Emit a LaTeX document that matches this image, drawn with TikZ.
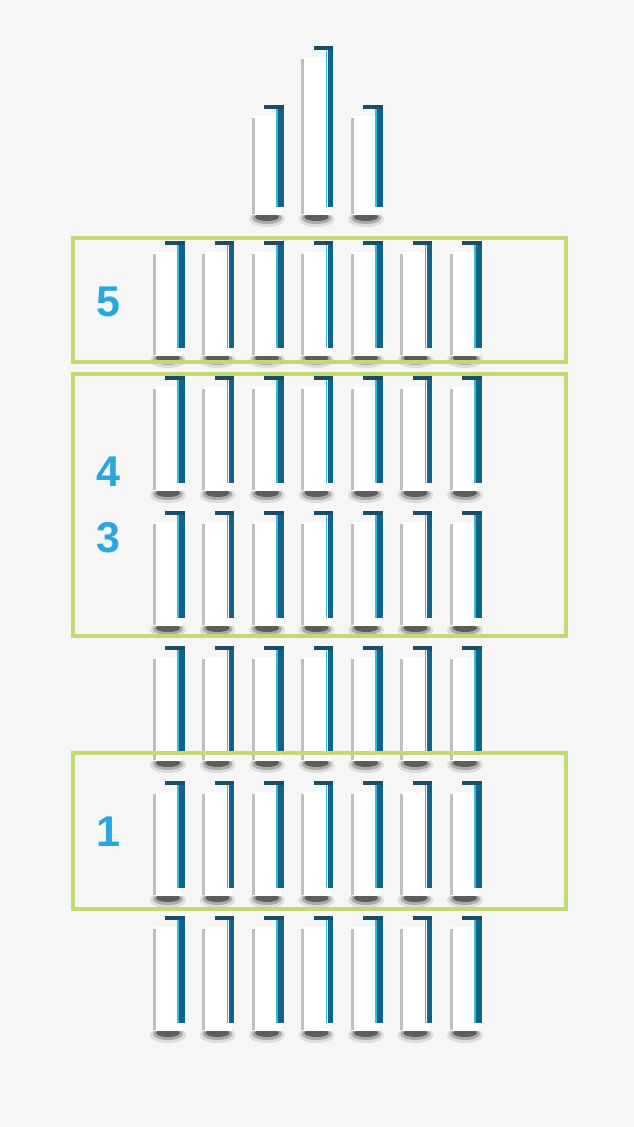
\documentclass[tikz,border=0pt]{standalone}
\usepackage{fontspec}
\setmainfont{Liberation Sans}
\definecolor{bg}{HTML}{F6F6F6}
\definecolor{barblue}{HTML}{12638A}
\definecolor{bartop}{HTML}{1B4D66}
\definecolor{barcyan}{HTML}{3CB8DA}
\definecolor{boxgreen}{HTML}{C2DA72}
\definecolor{numblue}{HTML}{2AA6DE}
\tikzset{
  framebox/.style={draw=boxgreen, line width=3.2pt},
  numlabel/.style={text=numblue, font=\bfseries\fontsize{43}{43}\selectfont, inner sep=0pt},
  whitebar/.style={fill=white},
  leftedge/.style={draw=black!25, line width=3pt},
  bluevert/.style={draw=barblue, line width=5.5pt},
  cyanvert/.style={draw=barcyan, line width=1.5pt},
  bluetop/.style={draw=bartop, line width=4pt},
}
\newcommand\drawbar[3]{%
  % #1 right x, #2 top y, #3 bottom y
  \fill[black, opacity=0.10] (#1-14,#3+4) ellipse [x radius=18, y radius=8];
  \fill[black, opacity=0.22] (#1-14,#3+3) ellipse [x radius=15, y radius=6];
  \fill[black, opacity=0.45] (#1-14,#3+2) ellipse [x radius=12, y radius=4];
  \fill[whitebar] (#1-28,#2+9) rectangle (#1,#3);
  \draw[leftedge] (#1-28,#2+11) -- (#1-28,#3-1);
  \draw[cyanvert] (#1-4,#2+2) -- (#1-4,#3-8);
  \draw[bluevert] (#1,#2) -- (#1,#3-8);
  \draw[bluetop] (#1-17,#2) -- (#1+2.75,#2);
}
\begin{document}
\begin{tikzpicture}[x=1pt,y=-1pt]
\fill[bg] (0,0) rectangle (634,1127);
\useasboundingbox (0,0) rectangle (634,1127);
% top bars
\drawbar{281}{107}{215}
\drawbar{330.5}{48}{215}
\drawbar{380}{107}{215}
% rows
\foreach \t in {243,378,513,648,783,918}{
  \foreach \r in {182,231.5,281,330.5,380,429.5,479}{
    \drawbar{\r}{\t}{\t+113}
  }
}
% frames
\draw[framebox] (73,238) rectangle (566,362);
\draw[framebox] (73,374) rectangle (566,636);
\draw[framebox] (73,753) rectangle (566,909);
% labels
\node[numlabel] (l5) at (108,302) {5};
\node[numlabel] (l4) at (108,472) {4};
\node[numlabel] (l3) at (108,538) {3};
\node[numlabel] (l1) at (108,832) {1};
\end{tikzpicture}
\end{document}
